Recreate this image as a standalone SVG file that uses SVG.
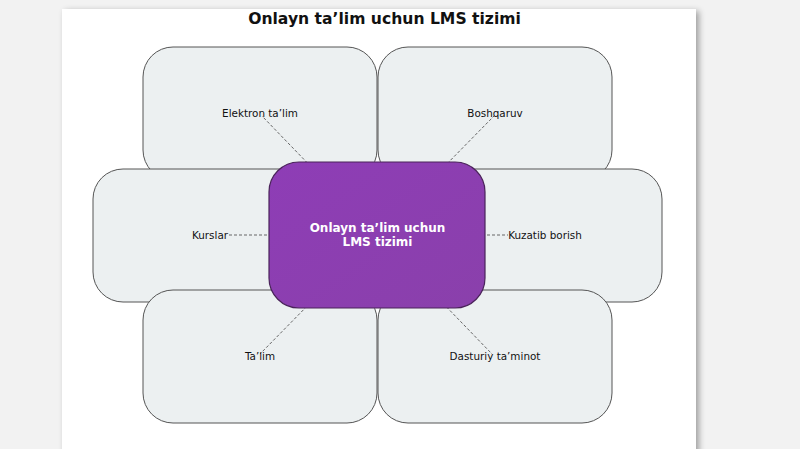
<svg xmlns="http://www.w3.org/2000/svg" width="800" height="449" viewBox="0 0 800 449">
<defs>
<filter id="sh" x="-10%" y="-10%" width="120%" height="120%">
<feGaussianBlur in="SourceAlpha" stdDeviation="3"/>
<feOffset dx="3" dy="2"/>
<feComponentTransfer><feFuncA type="linear" slope="0.35"/></feComponentTransfer>
<feMerge><feMergeNode/><feMergeNode in="SourceGraphic"/></feMerge>
</filter>
<linearGradient id="pg" x1="0" y1="0" x2="1" y2="1">
<stop offset="0" stop-color="#8e3db6"/>
<stop offset="1" stop-color="#8a40ab"/>
</linearGradient>
</defs>
<style>
.node{fill:#ecf0f1;stroke:#555;stroke-width:1}
.lbl{font-family:"DejaVu Sans",sans-serif;font-size:10.4px;fill:#111;text-anchor:middle}
.con{stroke:#666;stroke-width:1;stroke-dasharray:3,2;fill:none}
.title{font-family:"DejaVu Sans",sans-serif;font-size:15.6px;font-weight:bold;fill:#111;text-anchor:middle}
.ctr{font-family:"DejaVu Sans",sans-serif;font-size:12px;font-weight:bold;fill:#fff;text-anchor:middle}
</style>
<rect x="0" y="0" width="800" height="449" fill="#f2f2f2"/>
<rect x="62" y="9" width="634" height="450" fill="#ffffff" filter="url(#sh)"/>
<text class="title" x="384.5" y="24">Onlayn ta’lim uchun LMS tizimi</text>
<g id="node-elektron"><rect class="node" x="143" y="47" width="234" height="133" rx="30"/></g>
<g id="node-boshqaruv"><rect class="node" x="378" y="47" width="234" height="133" rx="30"/></g>
<g id="node-kurslar"><rect class="node" x="93" y="169" width="234" height="133" rx="30"/></g>
<g id="node-kuzatib"><rect class="node" x="428" y="169" width="234" height="133" rx="30"/></g>
<g id="node-talim"><rect class="node" x="143" y="290" width="234" height="133" rx="30"/></g>
<g id="node-dasturiy"><rect class="node" x="378" y="290" width="234" height="133" rx="30"/></g>
<g id="connectors">
<line class="con" x1="377" y1="235" x2="262" y2="116"/>
<line class="con" x1="377" y1="235" x2="494" y2="116"/>
<line class="con" x1="377" y1="235" x2="229" y2="235"/>
<line class="con" x1="377" y1="235" x2="508" y2="235"/>
<line class="con" x1="377" y1="235" x2="260" y2="354"/>
<line class="con" x1="377" y1="235" x2="492" y2="354"/>
</g>
<g id="node-center">
<rect x="269" y="162" width="216" height="146" rx="30" fill="url(#pg)" stroke="#4a235a" stroke-width="1.2"/>
<text class="ctr" x="377.5" y="232">Onlayn ta’lim uchun</text>
<text class="ctr" x="377.5" y="246">LMS tizimi</text>
</g>
<g id="labels">
<text class="lbl" x="260" y="117">Elektron ta’lim</text>
<text class="lbl" x="495" y="117">Boshqaruv</text>
<text class="lbl" x="210" y="239">Kurslar</text>
<text class="lbl" x="545" y="239">Kuzatib borish</text>
<text class="lbl" x="260" y="360">Ta’lim</text>
<text class="lbl" x="495" y="360">Dasturiy ta’minot</text>
</g>
</svg>
